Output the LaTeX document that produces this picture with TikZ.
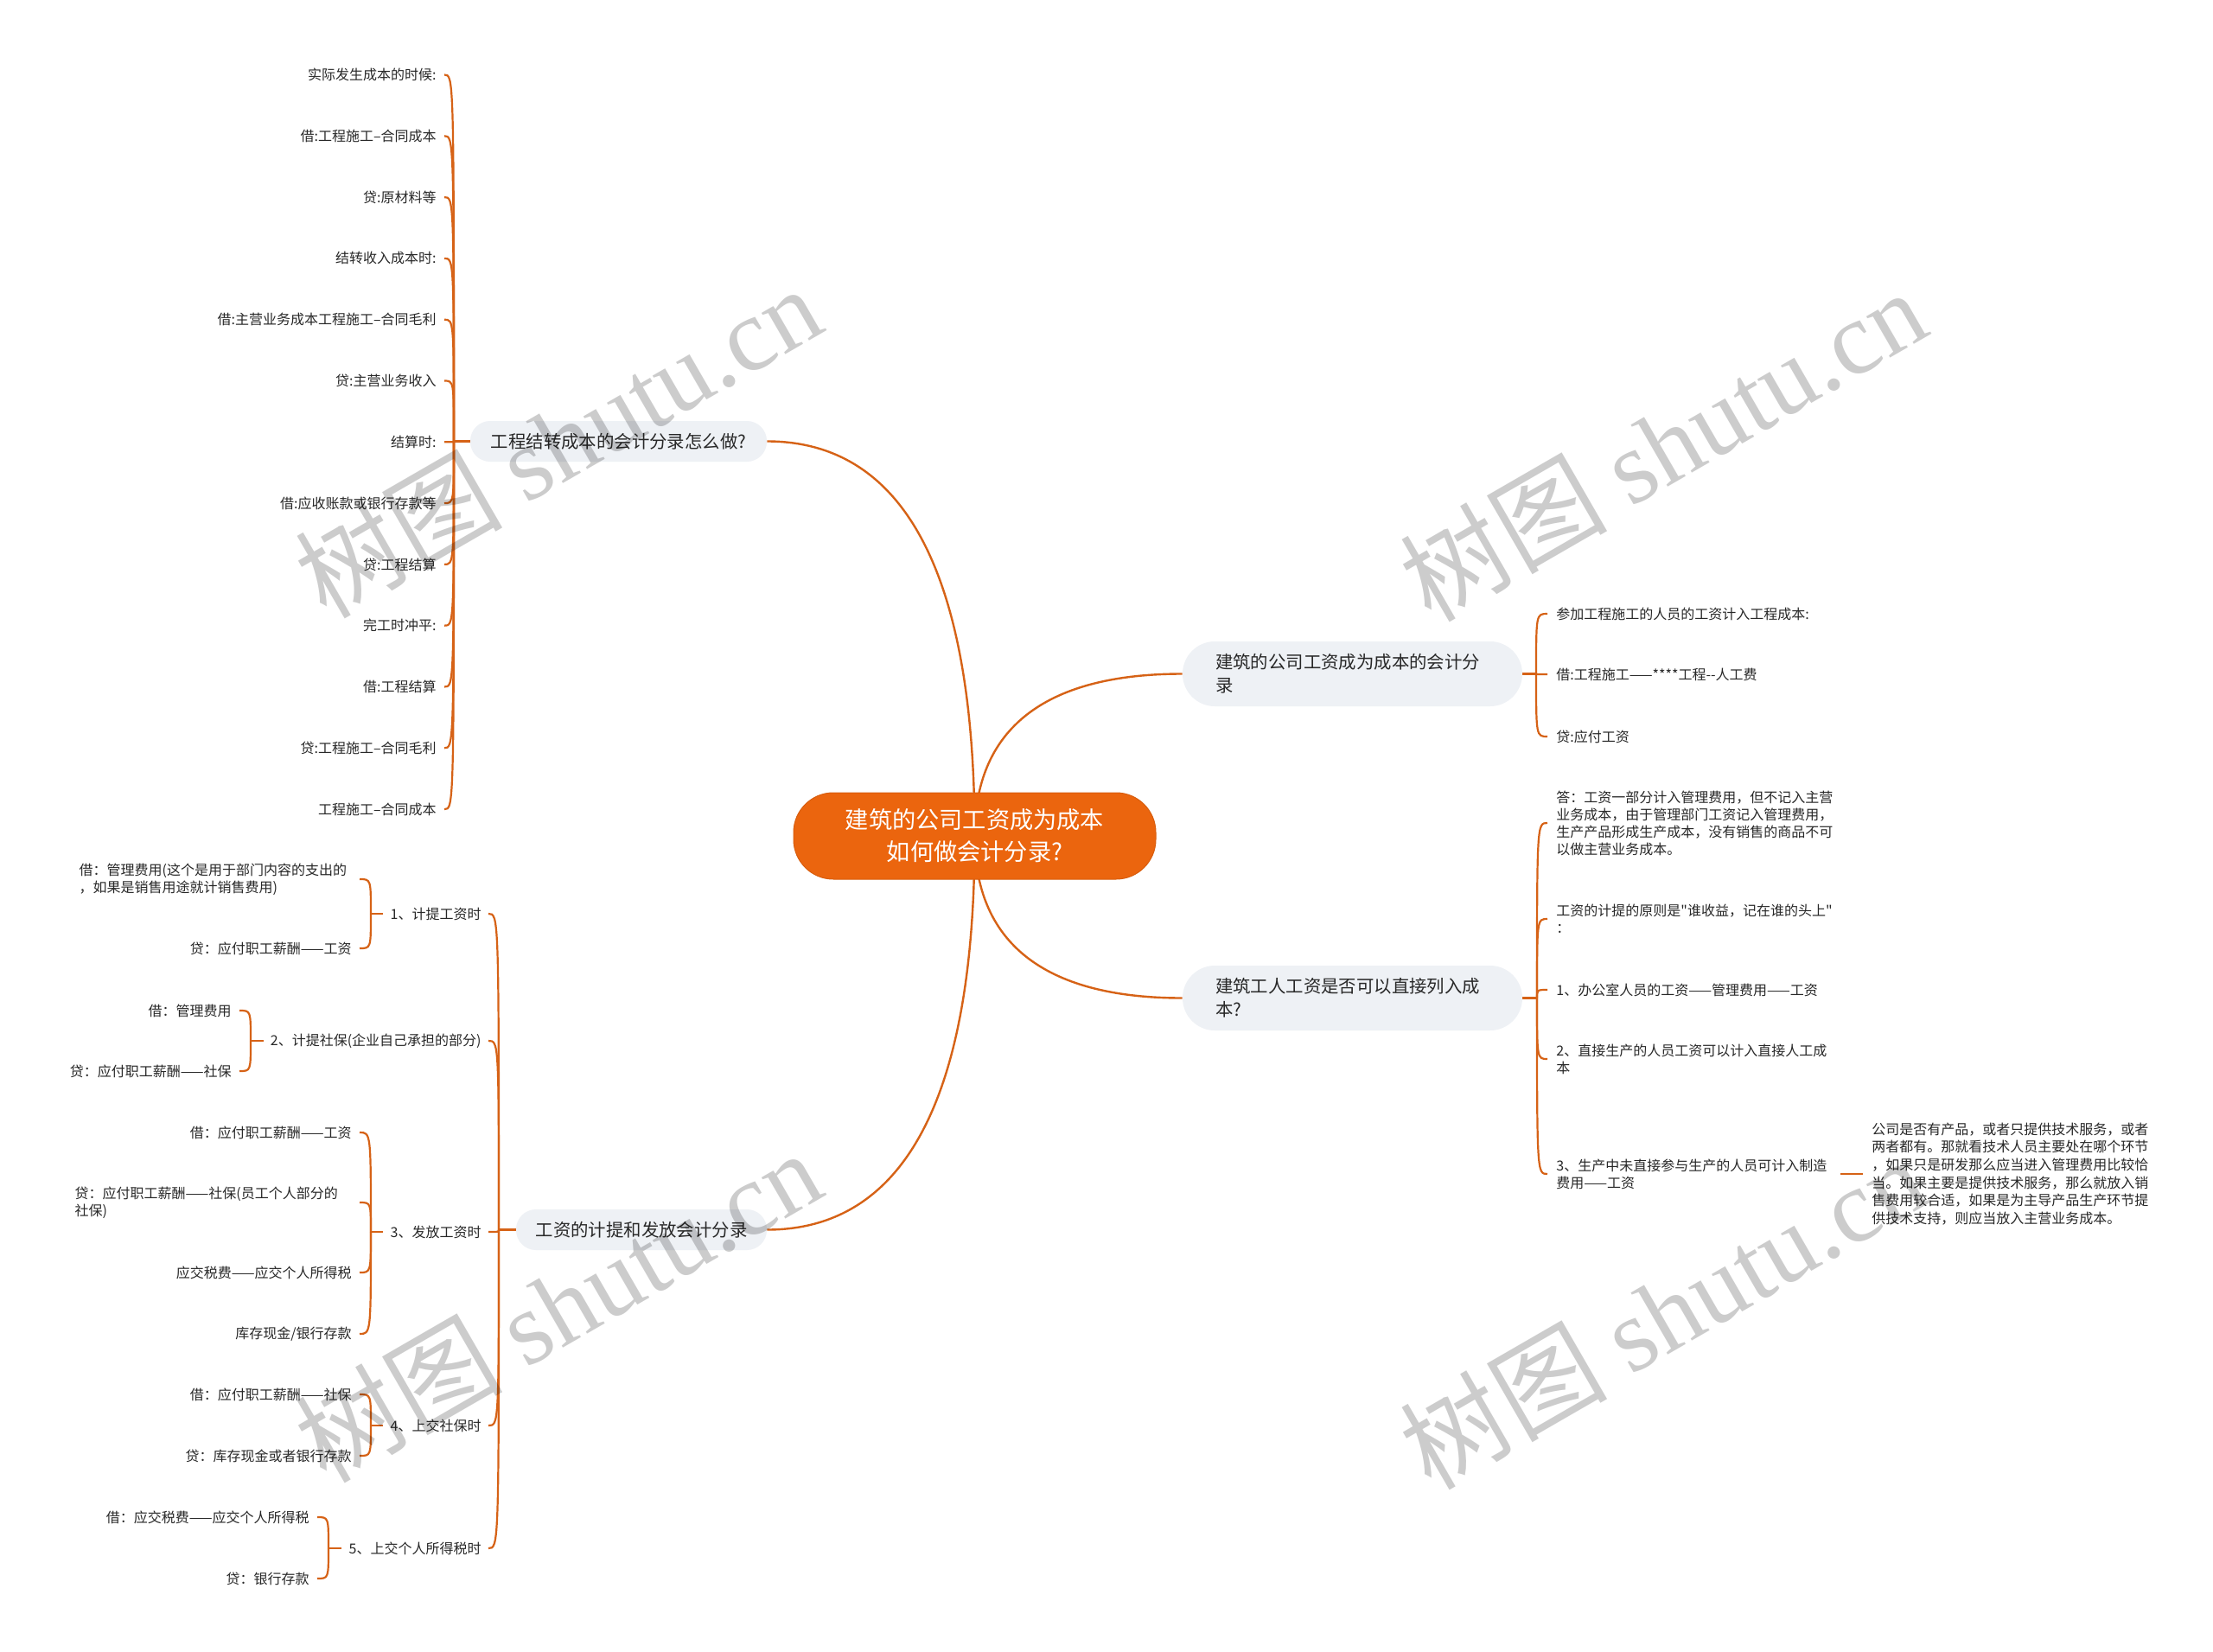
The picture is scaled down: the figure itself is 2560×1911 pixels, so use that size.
\documentclass[tikz,border=0pt]{standalone}
\usepackage{fontspec}
\newfontfamily\cjk{Noto Sans CJK SC}
\setmainfont{Noto Sans CJK SC}
\newfontfamily\wmserif{Liberation Serif}
\usetikzlibrary{calc}
\definecolor{lc}{RGB}{214,98,22}
\definecolor{rootc}{RGB}{235,101,14}
\definecolor{nodec}{RGB}{238,241,245}
\definecolor{txt}{RGB}{40,40,40}
\pgfdeclarelayer{back}
\pgfdeclarelayer{bg}
\pgfsetlayers{back,bg,main}
\newcommand\hk[2]{\draw[conn] (#1) .. controls (#1 |- #2) and (#1 |- #2) .. (#2);}
\tikzset{
  conn/.style={draw=lc, line width=1.1pt},
  mainc/.style={draw=lc, line width=1.2pt},
  leafL/.style={anchor=east, inner xsep=4.5pt, inner ysep=1pt, font=\cjk\fontsize{8}{10}\selectfont, text=txt, align=left},
  leafR/.style={anchor=west, inner xsep=5pt, inner ysep=1pt, font=\cjk\fontsize{8}{10}\selectfont, text=txt, align=left},
  subn/.style={anchor=east, inner xsep=4pt, inner ysep=1pt, font=\cjk\fontsize{8}{10}\selectfont, text=txt},
  br/.style={fill=nodec, rounded corners=11.5pt, minimum height=23.5pt, inner sep=0pt, font=\cjk\fontsize{10.2}{13.5}\selectfont, text=txt},
  brw/.style={fill=nodec, rounded corners=18.7pt, minimum height=37.5pt, text width=158.5pt, inner xsep=19pt, inner ysep=0pt, align=left, font=\cjk\fontsize{10.2}{13.5}\selectfont, text=txt},
  rootn/.style={fill=rootc, draw=rootc!92!black, line width=0.5pt, rounded corners=23pt, minimum width=209.5pt, minimum height=50pt, inner sep=0pt, align=center, font=\cjk\fontsize{13.6}{18.5}\selectfont, text=white},
  wm/.style={rotate=30, font=\cjk\fontsize{60}{60}\selectfont, text=black, text opacity=0.2, inner sep=0pt}
}
\begin{document}
\begin{tikzpicture}[x=0.5pt, y=-0.5pt]
\useasboundingbox (0,0) rectangle (2560,1911);
\begin{pgfonlayer}{back}
\fill[white] (0,0) rectangle (2560,1911);
\end{pgfonlayer}

% root and main branches
\node[rootn] (root) at (1127.5,967) {建筑的公司工资成为成本\\如何做会计分录?};
\node[br, minimum width=171.5pt] (b1) at (715.5,510.5) {工程结转成本的会计分录怎么做?};
\node[br, minimum width=145pt] (b2) at (742,1422.5) {工资的计提和发放会计分录};
\node[brw] (b3) at (1564.5,779.5) {建筑的公司工资成为成本的会计分\\录};
\node[brw] (b4) at (1564.5,1154.5) {建筑工人工资是否可以直接列入成\\本?};

% branch 1 leaves
\coordinate (Jb1) at (525,510.5);
\node[leafL] (a1) at (514,86.5) {实际发生成本的时候:};
\node[leafL] (a2) at (514,157.3) {借:工程施工–合同成本};
\node[leafL] (a3) at (514,228.1) {贷:原材料等};
\node[leafL] (a4) at (514,298.9) {结转收入成本时:};
\node[leafL] (a5) at (514,369.7) {借:主营业务成本工程施工–合同毛利};
\node[leafL] (a6) at (514,440.5) {贷:主营业务收入};
\node[leafL] (a7) at (514,511.3) {结算时:};
\node[leafL] (a8) at (514,582.1) {借:应收账款或银行存款等};
\node[leafL] (a9) at (514,652.9) {贷:工程结算};
\node[leafL] (a10) at (514,723.7) {完工时冲平:};
\node[leafL] (a11) at (514,794.5) {借:工程结算};
\node[leafL] (a12) at (514,865.3) {贷:工程施工–合同毛利};
\node[leafL] (a13) at (514,936.1) {工程施工–合同成本};

% branch 2 sub-branches
\coordinate (Jb2) at (577,1422.5);
\node[subn] (s1) at (565,1057) {1、计提工资时};
\node[subn] (s2) at (565,1204) {2、计提社保(企业自己承担的部分)};
\node[subn] (s3) at (565,1425) {3、发放工资时};
\node[subn] (s4) at (565,1649) {4、上交社保时};
\node[subn] (s5) at (565,1791) {5、上交个人所得税时};

\coordinate (J1) at (429,1057);
\node[leafL, text width=157.5pt] (t1a) at (416,1017) {借：管理费用(这个是用于部门内容的支出的\\，如果是销售用途就计销售费用)};
\node[leafL] (t1b) at (416,1097) {贷：应付职工薪酬——工资};

\coordinate (J2) at (290,1204);
\node[leafL] (t2a) at (277,1169) {借：管理费用};
\node[leafL] (t2b) at (277,1239) {贷：应付职工薪酬——社保};

\coordinate (J3) at (429,1425);
\node[leafL] (t3a) at (416,1310) {借：应付职工薪酬——工资};
\node[leafL, text width=160pt] (t3b) at (416,1391) {贷：应付职工薪酬——社保(员工个人部分的\\社保)};
\node[leafL] (t3c) at (416,1472) {应交税费——应交个人所得税};
\node[leafL] (t3d) at (416,1543) {库存现金/银行存款};

\coordinate (J4) at (429,1649);
\node[leafL] (t4a) at (416,1613) {借：应付职工薪酬——社保};
\node[leafL] (t4b) at (416,1684) {贷：库存现金或者银行存款};

\coordinate (J5) at (380,1791);
\node[leafL] (t5a) at (367,1755) {借：应交税费——应交个人所得税};
\node[leafL] (t5b) at (367,1826) {贷：银行存款};

% branch 3 leaves
\coordinate (Jb3) at (1777,779.5);
\node[leafR] (r1) at (1790,710) {参加工程施工的人员的工资计入工程成本:};
\node[leafR] (r2) at (1790,780) {借:工程施工——****工程--人工费};
\node[leafR] (r3) at (1790,852) {贷:应付工资};

% branch 4 leaves
\coordinate (Jb4) at (1778,1154.5);
\node[leafR, text width=159pt] (q1) at (1790,952) {答：工资一部分计入管理费用，但不记入主营\\业务成本，由于管理部门工资记入管理费用，\\生产产品形成生产成本，没有销售的商品不可\\以做主营业务成本。};
\node[leafR, text width=159pt] (q2) at (1790,1063) {工资的计提的原则是"谁收益，记在谁的头上"\\：};
\node[leafR] (q3) at (1790,1145) {1、办公室人员的工资——管理费用——工资};
\node[leafR, text width=159pt] (q4) at (1790,1225) {2、直接生产的人员工资可以计入直接人工成\\本};
\node[leafR, text width=159pt] (q5) at (1790,1358) {3、生产中未直接参与生产的人员可计入制造\\费用——工资};
\node[leafR, text width=159pt, font=\cjk\fontsize{8}{10.3}\selectfont] (p) at (2155,1358) {公司是否有产品，或者只提供技术服务，或者\\两者都有。那就看技术人员主要处在哪个环节\\，如果只是研发那么应当进入管理费用比较恰\\当。如果主要是提供技术服务，那么就放入销\\售费用较合适，如果是为主导产品生产环节提\\供技术支持，则应当放入主营业务成本。};

% connectors
\begin{pgfonlayer}{bg}
\draw[mainc] (root.center) .. controls (1127.5,650) and (1039,510.5) .. (b1.east);
\draw[mainc] (root.center) .. controls (1127.5,837) and (1216,779.5) .. (b3.west);
\draw[mainc] (root.center) .. controls (1127.5,1284) and (1039,1422.5) .. (b2.east);
\draw[mainc] (root.center) .. controls (1127.5,1097) and (1216,1154.5) .. (b4.west);

\draw[conn] (b1.west) -- (Jb1);
\foreach \n in {1,...,13} {\hk{Jb1}{a\n.east}}

\draw[conn] (b2.west) -- (Jb2);
\foreach \n in {1,...,5} {\hk{Jb2}{s\n.east}}

\draw[conn] (J1) -- (s1.west);
\hk{J1}{t1a.east}\hk{J1}{t1b.east}
\draw[conn] (J2) -- (s2.west);
\hk{J2}{t2a.east}\hk{J2}{t2b.east}
\draw[conn] (J3) -- (s3.west);
\hk{J3}{t3a.east}\hk{J3}{t3b.east}\hk{J3}{t3c.east}\hk{J3}{t3d.east}
\draw[conn] (J4) -- (s4.west);
\hk{J4}{t4a.east}\hk{J4}{t4b.east}
\draw[conn] (J5) -- (s5.west);
\hk{J5}{t5a.east}\hk{J5}{t5b.east}

\draw[conn] (b3.east) -- (Jb3);
\hk{Jb3}{r1.west}\hk{Jb3}{r2.west}\hk{Jb3}{r3.west}
\draw[conn] (b4.east) -- (Jb4);
\hk{Jb4}{q1.west}\hk{Jb4}{q2.west}\hk{Jb4}{q3.west}\hk{Jb4}{q4.west}\hk{Jb4}{q5.west}
\draw[conn] (q5.east) -- (p.west);
\end{pgfonlayer}

% watermarks
\node[wm] (w1) at (645,510) {树图 {\wmserif shutu.cn}};
\node[wm] (w2) at (1923,514) {树图 {\wmserif shutu.cn}};
\node[wm] (w3) at (645,1510) {树图 {\wmserif shutu.cn}};
\node[wm] (w4) at (1923,1518) {树图 {\wmserif shutu.cn}};
\end{tikzpicture}
\end{document}
